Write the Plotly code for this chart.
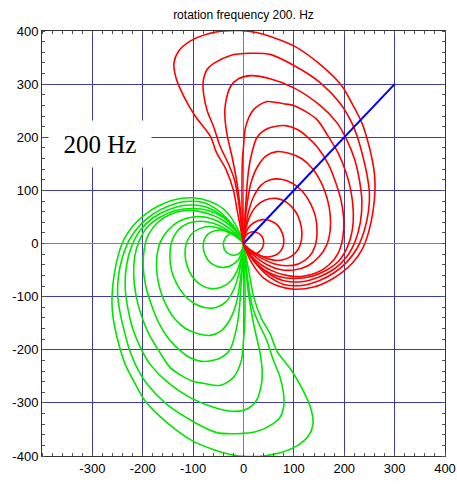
import plotly.graph_objects as go

# ---- data (data units) ----
TITLE = "rotation frequency 200. Hz"
LABEL = "200 Hz"
X_TICKS = [-300, -200, -100, 0, 100, 200, 300, 400]
Y_TICKS = [-400, -300, -200, -100, 0, 100, 200, 300, 400]

BLUE_X = [0, 300]
BLUE_Y = [0, 300]

RED_1 = [(0,0),(-7,35),(-14,70),(-20,100),(-35,140),(-53,170),(-66,202),(-96,240),(-119,278),(-134,312),(-138,340),(-129,362),(-106,381),(-73,394),(-40,400),(-7,401),(26,397),(59,388),(102,371),(152,337),(195,297),(218,259),(235,227),(246,195),(255,160),(260,130),(261,100),(257,60),(248,20),(236,-10),(218,-35),(195,-55),(170,-70),(139,-82),(100,-86),(66,-79),(40,-65),(22,-45),(10,-25),(0,0)]
RED_2 = [(0,0),(-5,40),(-10,80),(-18,120),(-30,150),(-46,182),(-59,219),(-72,250),(-79,280),(-80,305),(-72,328),(-59,339),(-26,354),(13,358),(53,356),(102,334),(152,303),(191,265),(215,227),(228,195),(238,160),(245,130),(250,95),(248,60),(240,25),(226,-8),(205,-35),(180,-55),(150,-70),(115,-79),(80,-77),(50,-62),(28,-42),(12,-22),(0,0)]
RED_3 = [(0,0),(-4,40),(-8,80),(-14,120),(-22,160),(-33,207),(-37,240),(-36,262),(-26,295),(-10,310),(15,316),(53,310),(100,293),(152,260),(185,228),(205,195),(220,160),(230,120),(235,80),(232,40),(222,5),(205,-25),(180,-48),(150,-63),(115,-72),(80,-70),(50,-57),(28,-40),(12,-20),(0,0)]
RED_4 = [(0,0),(-2,40),(-3,80),(-3,120),(-2,160),(0,182),(4,219),(20,252),(45,267),(80,263),(102,259),(145,234),(168,202),(188,170),(203,135),(213,100),(218,60),(216,25),(207,-5),(190,-32),(165,-50),(135,-62),(100,-66),(70,-62),(42,-50),(22,-34),(8,-16),(0,0)]
RED_5 = [(0,0),(2,40),(5,80),(8,120),(14,160),(27,200),(47,216),(79,222),(106,215),(125,202),(148,180),(168,150),(183,115),(194,80),(199,45),(197,10),(188,-18),(170,-40),(145,-55),(115,-62),(85,-60),(58,-52),(35,-40),(16,-24),(5,-10),(0,0)]
RED_6 = [(0,0),(3,40),(8,80),(15,115),(28,145),(45,165),(66,173),(90,170),(115,160),(138,140),(155,113),(166,85),(172,55),(172,25),(165,-3),(150,-25),(128,-42),(100,-50),(72,-49),(47,-40),(25,-26),(10,-12),(0,0)]
RED_7 = [(0,0),(4,30),(10,60),(20,88),(35,110),(53,120),(75,121),(98,113),(118,97),(133,75),(143,50),(146,22),(142,-5),(130,-25),(110,-38),(85,-42),(60,-38),(38,-29),(20,-18),(8,-8),(0,0)]
RED_8 = [(0,0),(4,25),(12,50),(25,70),(43,82),(65,85),(85,78),(102,62),(112,42),(116,20),(113,-2),(103,-18),(87,-28),(67,-32),(46,-28),(27,-20),(12,-11),(0,0)]
RED_9 = [(0,0),(3,15),(10,30),(22,40),(37,45),(53,43),(67,35),(76,22),(80,7),(78,-7),(70,-18),(57,-24),(42,-25),(27,-20),(13,-12),(4,-5),(0,0)]
RED_10 = [(0,0),(2,10),(8,18),(18,22),(28,20),(36,14),(40,4),(38,-7),(32,-15),(22,-20),(12,-18),(5,-11),(1,-5),(0,0)]

GREEN_1 = [(0,0),(7,-35),(14,-70),(20,-100),(35,-140),(53,-170),(66,-202),(96,-240),(119,-278),(134,-312),(138,-340),(129,-362),(106,-381),(73,-394),(40,-400),(7,-401),(-26,-397),(-59,-388),(-102,-371),(-152,-337),(-195,-297),(-218,-259),(-235,-227),(-246,-195),(-255,-160),(-260,-130),(-261,-100),(-257,-60),(-248,-20),(-236,10),(-218,35),(-195,55),(-170,70),(-139,82),(-100,86),(-66,79),(-40,65),(-22,45),(-10,25),(0,0)]
GREEN_2 = [(0,0),(5,-40),(10,-80),(18,-120),(30,-150),(46,-182),(59,-219),(72,-250),(79,-280),(80,-305),(72,-328),(59,-339),(26,-354),(-13,-358),(-53,-356),(-102,-334),(-152,-303),(-191,-265),(-215,-227),(-228,-195),(-238,-160),(-245,-130),(-250,-95),(-248,-60),(-240,-25),(-226,8),(-205,35),(-180,55),(-150,70),(-115,79),(-80,77),(-50,62),(-28,42),(-12,22),(0,0)]
GREEN_3 = [(0,0),(4,-40),(8,-80),(14,-120),(22,-160),(33,-207),(37,-240),(36,-262),(26,-295),(10,-310),(-15,-316),(-53,-310),(-100,-293),(-152,-260),(-185,-228),(-205,-195),(-220,-160),(-230,-120),(-235,-80),(-232,-40),(-222,-5),(-205,25),(-180,48),(-150,63),(-115,72),(-80,70),(-50,57),(-28,40),(-12,20),(0,0)]
GREEN_4 = [(0,0),(2,-40),(3,-80),(3,-120),(2,-160),(0,-182),(-4,-219),(-20,-252),(-45,-267),(-80,-263),(-102,-259),(-145,-234),(-168,-202),(-188,-170),(-203,-135),(-213,-100),(-218,-60),(-216,-25),(-207,5),(-190,32),(-165,50),(-135,62),(-100,66),(-70,62),(-42,50),(-22,34),(-8,16),(0,0)]
GREEN_5 = [(0,0),(-2,-40),(-5,-80),(-8,-120),(-14,-160),(-27,-200),(-47,-216),(-79,-222),(-106,-215),(-125,-202),(-148,-180),(-168,-150),(-183,-115),(-194,-80),(-199,-45),(-197,-10),(-188,18),(-170,40),(-145,55),(-115,62),(-85,60),(-58,52),(-35,40),(-16,24),(-5,10),(0,0)]
GREEN_6 = [(0,0),(-3,-40),(-8,-80),(-15,-115),(-28,-145),(-45,-165),(-66,-173),(-90,-170),(-115,-160),(-138,-140),(-155,-113),(-166,-85),(-172,-55),(-172,-25),(-165,3),(-150,25),(-128,42),(-100,50),(-72,49),(-47,40),(-25,26),(-10,12),(0,0)]
GREEN_7 = [(0,0),(-4,-30),(-10,-60),(-20,-88),(-35,-110),(-53,-120),(-75,-121),(-98,-113),(-118,-97),(-133,-75),(-143,-50),(-146,-22),(-142,5),(-130,25),(-110,38),(-85,42),(-60,38),(-38,29),(-20,18),(-8,8),(0,0)]
GREEN_8 = [(0,0),(-4,-25),(-12,-50),(-25,-70),(-43,-82),(-65,-85),(-85,-78),(-102,-62),(-112,-42),(-116,-20),(-113,2),(-103,18),(-87,28),(-67,32),(-46,28),(-27,20),(-12,11),(0,0)]
GREEN_9 = [(0,0),(-3,-15),(-10,-30),(-22,-40),(-37,-45),(-53,-43),(-67,-35),(-76,-22),(-80,-7),(-78,7),(-70,18),(-57,24),(-42,25),(-27,20),(-13,12),(-4,5),(0,0)]
GREEN_10 = [(0,0),(-2,-10),(-8,-18),(-18,-22),(-28,-20),(-36,-14),(-40,-4),(-38,7),(-32,15),(-22,20),(-12,18),(-5,11),(-1,5),(0,0)]

RED_CURVES = [RED_1, RED_2, RED_3, RED_4, RED_5, RED_6, RED_7, RED_8, RED_9, RED_10]
GREEN_CURVES = [GREEN_1, GREEN_2, GREEN_3, GREEN_4, GREEN_5, GREEN_6, GREEN_7, GREEN_8, GREEN_9, GREEN_10]

RED = "#ff0000"
GREEN = "#00e600"
BLUE = "#0000ff"
GRID = "#3c3ca0"

fig = go.Figure()

for curve in GREEN_CURVES:
    fig.add_trace(go.Scatter(x=[p[0] for p in curve], y=[p[1] for p in curve],
                             mode="lines", line=dict(color=GREEN, width=1.6, shape="spline", smoothing=0.8),
                             hoverinfo="skip", showlegend=False))
for curve in RED_CURVES:
    fig.add_trace(go.Scatter(x=[p[0] for p in curve], y=[p[1] for p in curve],
                             mode="lines", line=dict(color=RED, width=1.6, shape="spline", smoothing=0.8),
                             hoverinfo="skip", showlegend=False))
fig.add_trace(go.Scatter(x=BLUE_X, y=BLUE_Y, mode="lines",
                         line=dict(color=BLUE, width=2), hoverinfo="skip", showlegend=False))

axis_common = dict(
    range=[-400, 400], showgrid=True, gridcolor=GRID, gridwidth=1,
    zeroline=True, zerolinecolor="#808080", zerolinewidth=1,
    showline=True, linecolor="#333333", linewidth=1, mirror="allticks",
    ticks="", automargin=False, ticklabeloverflow="allow",
    tickfont=dict(family="Liberation Sans, Arial, sans-serif", size=13, color="#000000"),
    minor=dict(ticks="inside", ticklen=3, dtick=20, tickcolor="#555555", showgrid=False),
    fixedrange=True,
)

fig.update_xaxes(**axis_common, tickvals=X_TICKS, ticktext=[str(v) for v in X_TICKS])
fig.update_yaxes(**axis_common, tickvals=Y_TICKS, ticktext=[str(v) for v in Y_TICKS])

fig.add_annotation(x=-285, y=188, xref="x", yref="y", text=LABEL, showarrow=False,
                   font=dict(family="Liberation Serif, Times New Roman, serif", size=25, color="#000000"),
                   bgcolor="#ffffff", width=100, height=44, align="center", valign="middle")

fig.update_layout(
    width=457, height=484,
    margin=dict(l=42, r=12, t=31, b=28),
    paper_bgcolor="#ffffff", plot_bgcolor="#ffffff",
    title=dict(text=TITLE, x=0.5, xref="paper", y=1 - 15/484, yref="container",
               yanchor="middle", xanchor="center",
               font=dict(family="Liberation Sans, Arial, sans-serif", size=12, color="#000000")),
    showlegend=False,
    hovermode=False,
)

# remove the default page margin so the 457x484 figure fills the window exactly
fig.write_html("out.html",
               config={"displayModeBar": False, "staticPlot": True},
               post_script="document.body.style.margin='0';document.body.style.overflow='hidden';")
